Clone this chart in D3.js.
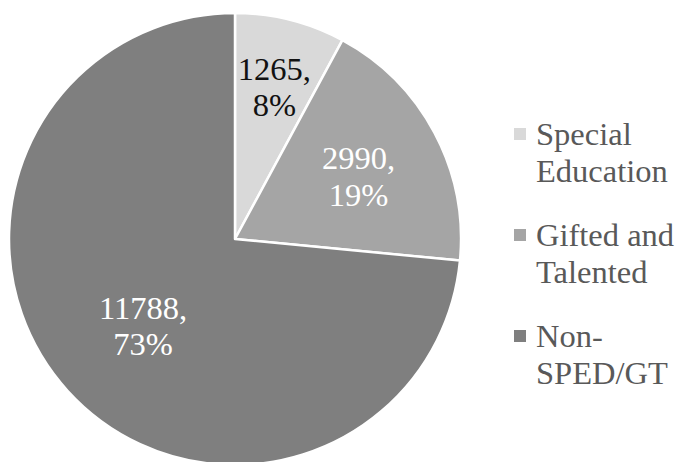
<!DOCTYPE html>
<html>
<head>
<meta charset="utf-8">
<script src="https://cdn.jsdelivr.net/npm/d3@7"></script>
<style>
  html, body { margin: 0; padding: 0; background: #ffffff; }
  svg { display: block; }
  .serif { font-family: "Liberation Serif", "Times New Roman", Times, serif; }
</style>
</head>
<body>
<svg id="chart" width="676" height="462"></svg>
<script>
// Student groups and their counts
const categories = ["Special Education", "Gifted and Talented", "Non-SPED/GT"];
const legendLines = [["Special", "Education"], ["Gifted and", "Talented"], ["Non-", "SPED/GT"]];
const counts = [1265, 2990, 11788];
const percentLabels = ["8%", "19%", "73%"];

// Styling
const sliceColors = ["#d9d9d9", "#a5a5a5", "#7f7f7f"];
const labelColors = ["#111111", "#ffffff", "#ffffff"];
const labelRadiusFactor = [0.71, 0.62, 0.55];

const width = 676, height = 462;
const cx = 235, cy = 239, radius = 226;
const fontSize = 32.5;

const svg = d3.select("#chart");

const pie = d3.pie().sort(null).value(d => d)(counts);
const arc = d3.arc().innerRadius(0).outerRadius(radius);

const g = svg.append("g").attr("transform", `translate(${cx},${cy})`);

g.selectAll("path.slice")
  .data(pie)
  .join("path")
  .attr("class", "slice")
  .attr("d", arc)
  .attr("fill", (d, i) => sliceColors[i])
  .attr("stroke", "#ffffff")
  .attr("stroke-width", 2.5)
  .attr("stroke-linejoin", "round");

// Data labels: "value," on the first line, percentage below
const labels = g.selectAll("text.label")
  .data(pie)
  .join("text")
  .attr("class", "label serif")
  .attr("text-anchor", "middle")
  .attr("font-size", fontSize)
  .attr("fill", (d, i) => labelColors[i])
  .attr("transform", (d, i) => {
    const r = radius * labelRadiusFactor[i];
    const a = (d.startAngle + d.endAngle) / 2;
    return `translate(${r * Math.sin(a)},${-r * Math.cos(a)})`;
  });

labels.append("tspan")
  .attr("x", 0)
  .attr("dy", "-0.12em")
  .text((d, i) => counts[i] + ",");
labels.append("tspan")
  .attr("x", 0)
  .attr("dy", "1.12em")
  .text((d, i) => percentLabels[i]);

// Legend
const legendX = 514, legendTop = 145, legendStep = 101, lineGap = 37;
const legend = svg.append("g");
const items = legend.selectAll("g.item")
  .data(categories)
  .join("g")
  .attr("class", "item")
  .attr("transform", (d, i) => `translate(${legendX},${legendTop + i * legendStep})`);

items.append("rect")
  .attr("x", 0)
  .attr("y", -17)
  .attr("width", 12)
  .attr("height", 12)
  .attr("fill", (d, i) => sliceColors[i]);

items.append("text")
  .attr("class", "serif")
  .attr("x", 22)
  .attr("y", 0)
  .attr("font-size", fontSize)
  .attr("fill", "#595959")
  .selectAll("tspan")
  .data((d, i) => legendLines[i])
  .join("tspan")
  .attr("x", 22)
  .attr("y", (d, j) => j * lineGap)
  .text(d => d);
</script>
</body>
</html>
